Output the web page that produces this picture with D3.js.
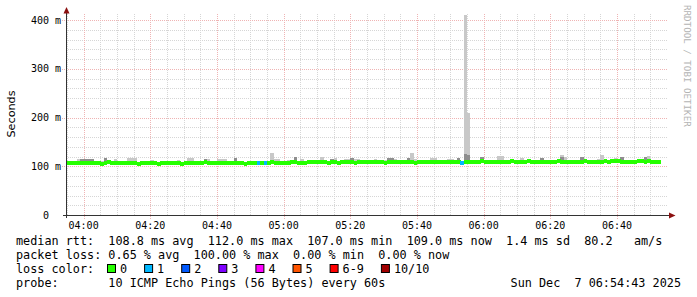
<!DOCTYPE html>
<html>
<head>
<meta charset="utf-8">
<script src="https://cdn.jsdelivr.net/npm/d3@7"></script>
<style>
  body { margin: 0; background: #fff; }
  svg { display: block; }
  text { font-family: "DejaVu Sans Mono", monospace; white-space: pre; }
</style>
</head>
<body>
<svg id="chart" width="697" height="297"></svg>
<script>
// median rtt per minute sample (ms), first sample at 03:55
const median = [
  107.0,106.5,106.0,106.5,107.0,107.5,107.0,106.0,106.5,107.0,105.5,106.5,108.0,107.0,106.5,106.0,106.5,107.0,107.5,107.0,
  106.0,105.5,106.5,107.0,106.5,107.5,106.0,105.5,106.5,107.0,106.5,106.0,107.0,106.5,105.5,106.0,107.0,107.5,106.5,107.0,
  107.5,108.0,107.0,106.5,107.0,106.0,106.5,107.0,106.0,106.5,107.5,107.0,106.0,105.5,106.0,106.5,107.0,107.0,107.0,107.5,
  107.5,108.0,107.0,107.5,106.5,106.0,107.0,108.5,108.0,107.0,106.5,107.5,108.0,109.0,108.5,108.0,109.0,108.0,107.0,108.5,
  108.0,107.5,108.5,109.0,108.5,108.0,107.5,109.0,108.0,109.5,109.0,108.0,108.5,109.5,108.0,107.5,108.0,109.0,108.5,109.0,
  108.0,108.5,109.0,108.5,107.5,108.0,109.0,109.5,109.0,108.5,108.0,109.0,108.5,109.0,109.5,108.5,108.0,109.0,106.5,108.5,
  109.0,109.5,108.5,109.0,110.0,109.5,109.0,108.5,109.0,109.5,108.5,109.0,109.5,110.0,109.0,108.5,109.0,109.5,110.0,109.0,
  108.5,109.0,108.0,109.0,109.5,108.5,109.0,110.0,109.5,109.0,108.5,109.0,109.5,108.5,109.0,110.0,109.5,109.0,108.5,109.5,
  109.0,110.0,109.5,110.0,110.5,110.0,109.5,109.0,108.5,109.0,109.5,110.0,110.5,109.5,110.0,109.0,109.5,109.0
];

// lost pings out of 10 per sample
const lossCount = [
  0,0,0,0,0,0,0,0,0,0,0,0,0,0,0,0,0,0,0,0,
  0,0,0,0,0,0,0,0,0,0,0,0,0,0,0,0,0,0,0,0,
  0,0,0,0,0,0,0,0,0,0,0,0,0,0,0,0,0,1,0,1,
  0,0,0,0,0,0,0,0,0,0,0,0,0,0,0,0,0,0,0,0,
  0,0,0,0,0,0,0,0,0,0,0,0,0,0,0,0,0,0,0,0,
  0,0,0,0,0,0,0,0,0,0,0,0,0,0,0,0,0,0,1,0,
  0,0,0,0,0,0,0,0,0,0,0,0,0,0,0,0,0,0,0,0,
  0,0,0,0,0,0,0,0,0,0,0,0,0,0,0,0,0,0,0,0,
  0,0,0,0,0,0,0,0,0,0,0,0,0,0,0,0,0,0
];

// top of the light smoke (slowest ping, ms), 0 = nothing above the median band
const smokeTop = [
  111,111,0,115,115,115,115,115,0,111,111,117,0,0,115,0,0,0,117,117,
  117,0,111,0,0,113,0,0,0,0,0,0,0,112,0,0,117,117,0,0,
  0,115,115,111,0,114,114,114,0,0,117,0,0,0,0,0,0,0,0,0,
  0,127,115,115,0,0,113,113,120,0,115,0,0,112,112,0,120,0,0,115,
  117,0,0,115,115,117,115,115,0,0,0,0,115,0,0,112,117,117,115,113,
  0,0,117,127,115,0,0,0,112,117,117,0,0,113,115,115,0,117,0,410,
  210,0,0,0,119,0,0,0,0,122,122,0,0,0,0,0,117,0,0,113,
  0,0,117,0,0,113,0,0,123,118,0,0,0,0,120,0,113,113,0,115,
  123,0,0,0,116,0,120,0,0,0,0,0,0,120,122,0,113,0
];

// top of the dense (dark) smoke, ms
const smokeDark = [
  0,0,0,0,114,114,114,114,0,0,0,117,0,0,0,0,0,0,0,0,
  0,0,0,0,0,0,0,0,0,0,0,0,0,0,0,0,0,0,0,0,
  0,115,0,0,0,0,0,0,0,0,117,0,0,0,0,0,0,0,0,0,
  0,0,0,0,0,0,0,112,120,0,0,0,0,0,0,0,0,0,0,115,
  0,0,0,0,0,117,0,0,0,0,0,0,0,0,0,0,117,117,0,0,
  0,0,117,0,0,0,0,0,0,0,0,0,0,0,0,0,0,117,0,125,
  123,0,0,0,119,0,0,0,0,0,0,0,0,0,0,0,0,0,0,0,
  0,0,117,0,0,0,0,0,118,0,0,0,0,0,120,0,0,0,0,0,
  0,0,0,0,0,0,120,0,0,0,0,0,0,120,0,0,0,0
];

const lossLabels = ["0", "1", "2", "3", "4", "5", "6-9", "10/10"];
const lossColors = ["#26ff00", "#00b8ff", "#0059ff", "#7e00ff", "#ff00ff", "#ff5500", "#ff0000", "#a10000"];

const rttStats = ["108.8", "112.0", "107.0", "109.0"];
const rttSd = "1.4";
const rttAms = "80.2";
const lossStats = ["0.65", "100.00", "0.00", "0.00"];
const yTicks = [0, 100, 200, 300, 400];

const tStart = new Date(2025, 11, 7, 3, 54, 43);
const tEnd = new Date(2025, 11, 7, 6, 54, 43);
const firstSample = new Date(2025, 11, 7, 3, 55, 0);

const svg = d3.select("#chart");

var x = d3.scaleTime().domain([tStart, tEnd]).range([66, 666]);
var y = d3.scaleLinear().domain([0, 414.4]).range([215, 13]);

function sampleTime(i) {
  return d3.timeMinute.offset(firstSample, i);
}
function crisp(v) {
  return Math.round(v) + 0.5;
}

//
// grid
//
var grid = svg.append("g");
var minorT = d3.timeMinute.every(5).range(tStart, tEnd).filter(d => d.getMinutes() % 20 != 0);
var majorT = d3.timeMinute.every(20).range(tStart, tEnd);

grid.selectAll(".vmin").data(minorT).enter().append("line")
  .attr("x1", d => crisp(x(d))).attr("x2", d => crisp(x(d)))
  .attr("y1", 215).attr("y2", 13)
  .attr("stroke", "#d6d6d6").attr("stroke-dasharray", "1,1");

var minorV = d3.range(20, 401, 20).filter(v => v % 100 != 0);
grid.selectAll(".hmin").data(minorV).enter().append("line")
  .attr("x1", 66).attr("x2", 668)
  .attr("y1", d => crisp(y(d))).attr("y2", d => crisp(y(d)))
  .attr("stroke", "#d6d6d6").attr("stroke-dasharray", "1,1");

grid.selectAll(".vmaj").data(majorT).enter().append("line")
  .attr("x1", d => crisp(x(d))).attr("x2", d => crisp(x(d)))
  .attr("y1", 219).attr("y2", 13)
  .attr("stroke", "#efb4b4").attr("stroke-dasharray", "1,1");

grid.selectAll(".hmaj").data(yTicks.filter(v => v > 0)).enter().append("line")
  .attr("x1", 62).attr("x2", 668)
  .attr("y1", d => crisp(y(d))).attr("y2", d => crisp(y(d)))
  .attr("stroke", "#efb4b4").attr("stroke-dasharray", "1,1");

//
// smoke and median band
//
var idx = d3.range(median.length);
var plot = svg.append("g");

plot.selectAll(".smoke").data(idx.filter(i => smokeTop[i] > 0)).enter().append("rect")
  .attr("x", i => x(sampleTime(i)))
  .attr("width", i => x(sampleTime(i + 1)) - x(sampleTime(i)))
  .attr("y", i => y(smokeTop[i]))
  .attr("height", i => y(median[i]) - y(smokeTop[i]))
  .attr("fill", "#c8c8c8")
  .attr("shape-rendering", "crispEdges");

plot.selectAll(".dark").data(idx.filter(i => smokeDark[i] > 0)).enter().append("rect")
  .attr("x", i => x(sampleTime(i)))
  .attr("width", i => x(sampleTime(i + 1)) - x(sampleTime(i)))
  .attr("y", i => y(smokeDark[i]))
  .attr("height", i => y(median[i]) - y(smokeDark[i]))
  .attr("fill", "#8e8e8e")
  .attr("shape-rendering", "crispEdges");

function lossIndex(n) {
  if (n <= 5) return n;
  return n < 10 ? 6 : 7;
}

plot.selectAll(".band").data(idx.filter(i => median[i] != null)).enter().append("rect")
  .attr("x", i => x(sampleTime(i)))
  .attr("width", i => x(sampleTime(i + 1)) - x(sampleTime(i)) + 0.3)
  .attr("y", i => y(median[i]) - 2)
  .attr("height", 4)
  .attr("fill", i => lossColors[lossIndex(lossCount[i])])
  .attr("shape-rendering", "crispEdges");

//
// axes
//
var axisCol = "#333";
var arrowCol = "#8b1010";

svg.append("line").attr("x1", 66.5).attr("x2", 66.5).attr("y1", 218).attr("y2", 10)
  .attr("stroke", axisCol);
svg.append("line").attr("x1", 63).attr("x2", 671).attr("y1", 215.5).attr("y2", 215.5)
  .attr("stroke", axisCol);
svg.append("path").attr("d", "M63.5,13.5 L66.5,7 L69.5,13.5 Z").attr("fill", arrowCol);
svg.append("path").attr("d", "M669,212.5 L675.5,215.5 L669,218.5 Z").attr("fill", arrowCol);

// tick labels
svg.selectAll(".ylab").data(yTicks).enter().append("text")
  .attr("xml:space", "preserve")
  .attr("x", 61)
  .attr("y", d => y(d) + 3.6)
  .attr("text-anchor", "end")
  .attr("font-size", "10px")
  .attr("fill", "#000")
  .text(d => d == 0 ? "0  " : (d + " m"));

svg.selectAll(".xlab").data(majorT).enter().append("text")
  .attr("x", d => x(d))
  .attr("y", 228.5)
  .attr("text-anchor", "middle")
  .attr("font-size", "10px")
  .attr("fill", "#000")
  .text(d => d3.timeFormat("%H:%M")(d));

svg.append("text")
  .attr("transform", "translate(15,114) rotate(-90)")
  .attr("text-anchor", "middle")
  .attr("font-size", "11.2px")
  .style("font-family", "'DejaVu Sans', sans-serif")
  .attr("fill", "#000")
  .text("Seconds");

svg.append("text")
  .attr("transform", "translate(684,5) rotate(90)")
  .attr("font-size", "9.2px")
  .attr("fill", "#b4b4b4")
  .text("RRDTOOL / TOBI OETIKER");

//
// legend
//
var legFont = "11.8px";
var cw = 7.1;

function legendLine(txt, lx, ly, anchor) {
  svg.append("text")
    .attr("xml:space", "preserve")
    .attr("x", lx).attr("y", ly)
    .attr("text-anchor", anchor || "start")
    .attr("font-size", legFont)
    .attr("fill", "#000")
    .text(txt);
}

legendLine("median rtt:  " + rttStats[0] + " ms avg  " + rttStats[1] + " ms max  " +
  rttStats[2] + " ms min  " + rttStats[3] + " ms now  " + rttSd + " ms sd  " + rttAms + "   am/s", 16, 245);
legendLine("packet loss: " + lossStats[0] + " % avg  " + lossStats[1] + " % max  " +
  lossStats[2] + " % min  " + lossStats[3] + " % now", 16, 259);
legendLine("loss color:", 16, 273);

var bx = 107;
lossLabels.forEach(function(l, i) {
  svg.append("rect")
    .attr("x", bx + 0.5).attr("y", 264.5)
    .attr("width", 8).attr("height", 8)
    .attr("fill", lossColors[i])
    .attr("stroke", "#000");
  legendLine(l, bx + 13, 273);
  bx += 30 + l.length * cw;
});

legendLine("probe:       10 ICMP Echo Pings (56 Bytes) every 60s", 16, 287);
legendLine("Sun Dec  7 06:54:43 2025", 681, 287, "end");
</script>
</body>
</html>
